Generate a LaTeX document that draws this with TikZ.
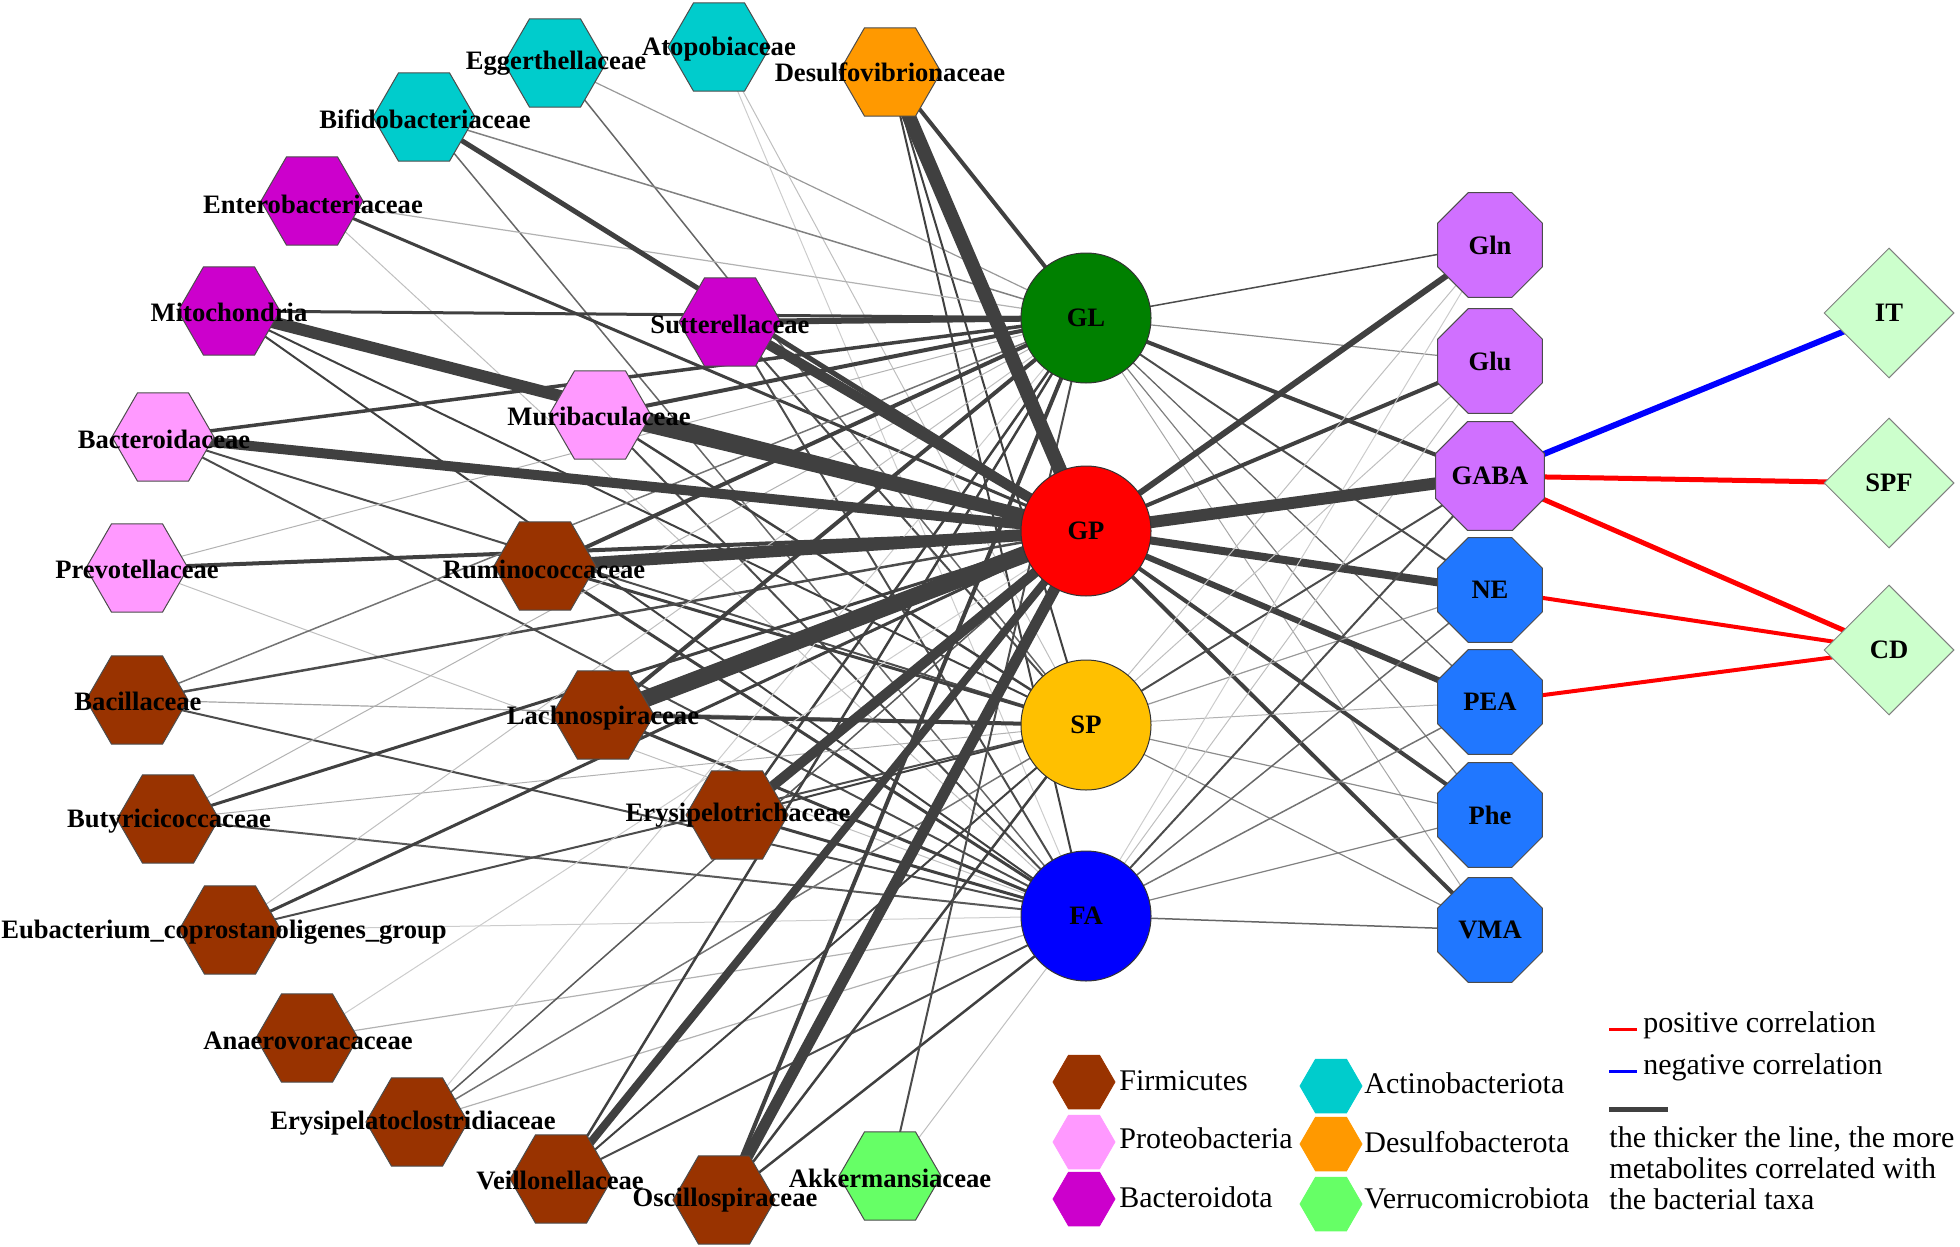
\documentclass[tikz,border=0pt]{standalone}
\usepackage{fontspec}
\setmainfont{Liberation Serif}
\usetikzlibrary{shapes.geometric}
\pgfdeclarelayer{background}
\pgfdeclarelayer{foreground}
\pgfsetlayers{background,main,foreground}
\definecolor{firm}{HTML}{993300}
\definecolor{prot}{HTML}{FF99FF}
\definecolor{bact}{HTML}{CC00CC}
\definecolor{acti}{HTML}{00CCCC}
\definecolor{desu}{HTML}{FF9900}
\definecolor{verr}{HTML}{66FF66}
\definecolor{glc}{HTML}{008000}
\definecolor{gpc}{HTML}{FF0000}
\definecolor{spc}{HTML}{FFC000}
\definecolor{fac}{HTML}{0000FF}
\definecolor{metp}{HTML}{D070FF}
\definecolor{metb}{HTML}{2077FF}
\definecolor{dia}{HTML}{CCFFCC}
\definecolor{posred}{HTML}{FF0000}
\definecolor{negblue}{HTML}{0000FF}
\newcommand\labfont{\fontsize{13.3}{15}\selectfont\bfseries}
\begin{document}
\begin{tikzpicture}[x=0.5pt,y=-0.5pt,
  hex/.style={regular polygon, regular polygon sides=6, minimum size=51pt, inner sep=0pt, draw=black!70, line width=0.5pt, fill=#1},
  oct/.style={regular polygon, regular polygon sides=8, minimum size=56.8pt, inner sep=0pt, draw=black!70, line width=0.5pt, fill=#1, font=\labfont},
  hub/.style={circle, minimum size=65pt, inner sep=0pt, draw=black!80, line width=0.5pt, fill=#1, font=\labfont},
  grp/.style={diamond, minimum width=65pt, minimum height=65pt, inner sep=0pt, draw=black!50, line width=0.5pt, fill=dia, font=\labfont},
  tlab/.style={font=\labfont, inner sep=0pt},
  lhex/.style={regular polygon, regular polygon sides=6, minimum size=31pt, inner sep=0pt, fill=#1, draw=#1},
  ltext/.style={font=\fontsize{15}{18}\selectfont, anchor=west, inner sep=0pt, text height=1.6ex, text depth=0.4ex},
  pos/.style={draw=posred, line width=#1},
  neg/.style={draw=negblue, line width=#1}
]
\useasboundingbox (0,0) rectangle (1960,1247);
% ---------- taxa ----------
\node[hex=acti] (Egg) at (555,63) {};
\node[hex=acti] (Ato) at (719,47) {};
\node[hex=desu] (Des) at (890,72) {};
\node[hex=acti] (Bif) at (424,117) {};
\node[hex=bact] (Ent) at (312,201) {};
\node[hex=bact] (Mit) at (229,311) {};
\node[hex=bact] (Sut) at (730,322) {};
\node[hex=prot] (Mur) at (600,415) {};
\node[hex=prot] (Bac) at (163,437) {};
\node[hex=prot] (Pre) at (137,568) {};
\node[hex=firm] (Rum) at (545,566) {};
\node[hex=firm] (Baci) at (137,700) {};
\node[hex=firm] (Lac) at (603,715) {};
\node[hex=firm] (But) at (168,819) {};
\node[hex=firm] (Ery) at (737,815) {};
\node[hex=firm] (Eub) at (230,930) {};
\node[hex=firm] (Ana) at (307,1038) {};
\node[hex=firm] (Erc) at (417,1122) {};
\node[hex=firm] (Vei) at (561,1179) {};
\node[hex=firm] (Osc) at (724,1200) {};
\node[hex=verr] (Akk) at (890,1176) {};
% ---------- hubs ----------
\node[hub=glc] (GL) at (1086,318) {GL};
\node[hub=gpc] (GP) at (1086,531) {GP};
\node[hub=spc] (SP) at (1086,725) {SP};
\node[hub=fac] (FA) at (1086,916) {FA};
% ---------- metabolites ----------
\node[oct=metp] (Gln) at (1490,245) {Gln};
\node[oct=metp] (Glu) at (1490,361) {Glu};
\node[oct=metp] (GABA) at (1490,476) {GABA};
\node[oct=metb] (NE) at (1490,590) {NE};
\node[oct=metb] (PEA) at (1490,702) {PEA};
\node[oct=metb] (Phe) at (1490,815) {Phe};
\node[oct=metb] (VMA) at (1490,930) {VMA};
% ---------- groups ----------
\node[grp] (IT) at (1889,313) {IT};
\node[grp] (SPF) at (1889,483) {SPF};
\node[grp] (CD) at (1889,650) {CD};
% ---------- edges ----------
\begin{pgfonlayer}{background}
\foreach \a/\b/\w/\k in {
 Egg/GL/0.6/40, Egg/SP/0.75/60,
 Ato/SP/0.5/25, Ato/FA/0.5/20,
 Des/GL/2/75, Des/SP/1/75, Des/FA/1/75,
 Bif/GL/0.75/50, Bif/FA/0.75/60,
 Ent/GP/1.5/75, Ent/GL/0.6/30, Ent/FA/0.5/25,
 Mit/GL/1.5/75, Mit/SP/1/75, Mit/FA/1/75,
 Sut/SP/1/70, Sut/FA/1/70,
 Mur/GL/2/75, Mur/SP/1.25/75, Mur/FA/1/70,
 Bac/GL/1.75/75, Bac/SP/1/70, Bac/FA/1/70,
 Pre/GP/2/75, Pre/GL/0.5/30, Pre/FA/0.5/25,
 Rum/GL/2/75, Rum/SP/1.5/75, Rum/FA/1.5/75,
 Baci/GP/1.25/70, Baci/GL/0.75/55, Baci/SP/0.6/35, Baci/FA/1/70,
 Lac/GL/2/75, Lac/SP/2/75, Lac/FA/1.5/75,
 But/GP/1.5/75, But/GL/0.5/30, But/SP/0.5/30, But/FA/1/65,
 Ery/GL/1.25/75, Ery/SP/1/75, Ery/FA/1.5/75,
 Eub/GP/1.5/75, Eub/SP/1/70, Eub/GL/0.5/25, Eub/FA/0.5/20,
 Ana/FA/0.6/30, Ana/GP/0.5/20,
 Erc/GP/0.75/65, Erc/SP/0.75/55, Erc/FA/0.6/30, Erc/GL/0.5/20,
 Vei/GL/1.25/75, Vei/SP/1/75, Vei/FA/1/70,
 Osc/SP/1.25/75, Osc/FA/1.25/75,
 Akk/GL/1/70, Akk/FA/0.5/25,
 GL/Gln/0.75/70, GL/Glu/0.6/45, GL/GABA/2/75, GL/NE/1/70, GL/PEA/0.65/60, GL/Phe/0.6/50, GL/VMA/0.5/35,
 GP/Gln/3/75, GP/Glu/2/75, GP/NE/4/75, GP/PEA/3/75, GP/Phe/2/75, GP/VMA/2/75,
 SP/Gln/0.5/25, SP/Glu/0.5/25, SP/GABA/1/70, SP/NE/0.6/40, SP/PEA/0.5/30, SP/Phe/0.6/45, SP/VMA/0.6/50,
 FA/Gln/0.5/20, FA/Glu/0.5/25, FA/GABA/1/70, FA/NE/0.75/60, FA/PEA/0.75/55, FA/Phe/0.6/50, FA/VMA/0.75/60,
 Bif/GP/2.5/75, Sut/GL/3/75, Osc/GL/2/75, Vei/GP/4/75,
 Ery/GP/5/75, Bac/GP/5/75, Sut/GP/5/75,
 Mit/GP/6/75, Mur/GP/6/75, Osc/GP/5.5/75, Rum/GP/6/75, GP/GABA/6/75,
 Des/GP/7/75, Lac/GP/8.5/75}
 {\draw[line width=\w pt, draw=black!\k] (\a.center) -- (\b.center);}
\draw[neg=3pt] (GABA.center) -- (IT.center);
\draw[pos=2.5pt] (GABA.center) -- (SPF.center);
\draw[pos=2.5pt] (GABA.center) -- (CD.center);
\draw[pos=2pt] (NE.center) -- (CD.center);
\draw[pos=2pt] (PEA.center) -- (CD.center);
\end{pgfonlayer}
% ---------- taxa labels ----------
\begin{pgfonlayer}{foreground}
\node[tlab] (lEgg) at (556,63) {Eggerthellaceae};
\node[tlab] (lAto) at (719,49) {Atopobiaceae};
\node[tlab] (lDes) at (890,72) {Desulfovibrionaceae};
\node[tlab] (lBif) at (425,119) {Bifidobacteriaceae};
\node[tlab] (lEnt) at (313,204) {Enterobacteriaceae};
\node[tlab] (lMit) at (229,312) {Mitochondria};
\node[tlab] (lSut) at (730,324) {Sutterellaceae};
\node[tlab] (lMur) at (599,416) {Muribaculaceae};
\node[tlab] (lBac) at (164,439) {Bacteroidaceae};
\node[tlab] (lPre) at (137,569) {Prevotellaceae};
\node[tlab] (lRum) at (544,569) {Ruminococcaceae};
\node[tlab] (lBaci) at (138,701) {Bacillaceae};
\node[tlab] (lLac) at (603,718) {Lachnospiraceae};
\node[tlab] (lBut) at (169,821) {Butyricicoccaceae};
\node[tlab] (lEry) at (738,815) {Erysipelotrichaceae};
\node[tlab] (lEub) at (224,932) {Eubacterium\_coprostanoligenes\_group};
\node[tlab] (lAna) at (308,1041) {Anaerovoracaceae};
\node[tlab] (lErc) at (413,1123) {Erysipelatoclostridiaceae};
\node[tlab] (lVei) at (560,1180) {Veillonellaceae};
\node[tlab] (lOsc) at (725,1200) {Oscillospiraceae};
\node[tlab] (lAkk) at (890,1178) {Akkermansiaceae};
\end{pgfonlayer}
% ---------- legend ----------
\node[lhex=firm] (kFirm) at (1084,1082) {};
\node[lhex=prot] (kProt) at (1084,1142) {};
\node[lhex=bact] (kBact) at (1084,1199) {};
\node[lhex=acti] (kActi) at (1331,1086) {};
\node[lhex=desu] (kDesu) at (1331,1144) {};
\node[lhex=verr] (kVerr) at (1331,1204) {};
\node[ltext] (tFirm) at (1119,1085) {Firmicutes};
\node[ltext] (tProt) at (1119,1143) {Proteobacteria};
\node[ltext] (tBact) at (1119,1202) {Bacteroidota};
\node[ltext] (tActi) at (1364,1088) {Actinobacteriota};
\node[ltext] (tDesu) at (1364,1147) {Desulfobacterota};
\node[ltext] (tVerr) at (1364,1203) {Verrucomicrobiota};
\draw[pos=1.5pt] (1609,1029) -- (1637,1029);
\draw[neg=1.5pt] (1609,1071) -- (1637,1071);
\draw[line width=2.5pt, draw=black!75] (1609,1109) -- (1668,1109);
\node[ltext] (tPos) at (1643,1027) {positive correlation};
\node[ltext] (tNeg) at (1643,1069) {negative correlation};
\node[font=\fontsize{15}{15.5}\selectfont, anchor=west, align=left, inner sep=0pt] (tThick) at (1609,1168)
  {the thicker the line, the more\\metabolites correlated with\\the bacterial taxa};
\end{tikzpicture}
\end{document}
